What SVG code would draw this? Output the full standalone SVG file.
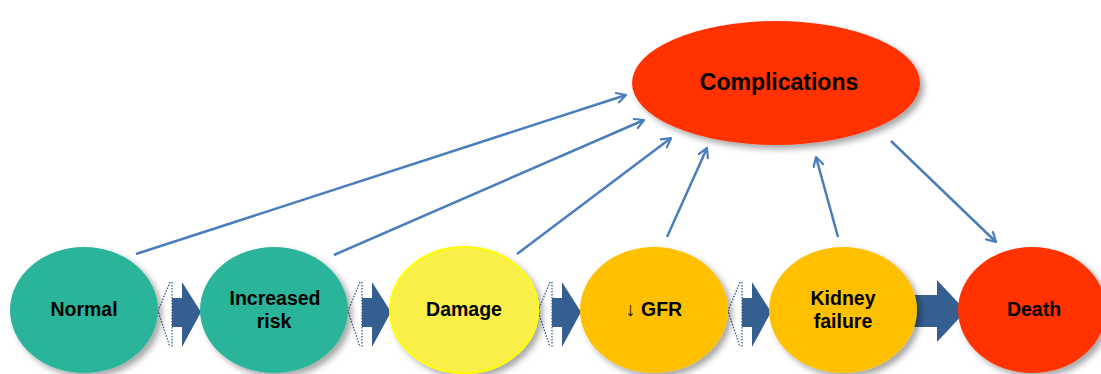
<svg xmlns="http://www.w3.org/2000/svg" width="1101" height="374" viewBox="0 0 1101 374">
<style>
.lbl{font-family:"Liberation Sans",Arial,sans-serif;font-weight:bold;font-size:19.5px;fill:#000;text-anchor:middle}
.big{font-size:23px}
.thin{stroke:#4a7ebb;stroke-width:2.5;fill:none;marker-end:url(#open)}
.blk{fill:#365f91}
.dot{fill:none;stroke:#365f91;stroke-width:1.3;stroke-dasharray:1.5 1.5}
</style>
<defs>
<marker id="open" viewBox="0 0 12 12" refX="10" refY="6" markerWidth="12" markerHeight="12" markerUnits="userSpaceOnUse" orient="auto">
<path d="M1,1 L10,6 L1,11" fill="none" stroke="#4a7ebb" stroke-width="2.2" stroke-linecap="round" stroke-linejoin="round"/>
</marker>
<filter id="sh" x="-20%" y="-20%" width="150%" height="150%">
<feGaussianBlur in="SourceAlpha" stdDeviation="3"/>
<feOffset dx="4" dy="4" result="b"/>
<feComponentTransfer><feFuncA type="linear" slope="0.35"/></feComponentTransfer>
<feMerge><feMergeNode/><feMergeNode in="SourceGraphic"/></feMerge>
</filter>
</defs>
<g id="connectors">
<line class="thin" x1="136" y1="254" x2="626" y2="95"/>
<line class="thin" x1="334" y1="255" x2="644" y2="120"/>
<line class="thin" x1="517" y1="254" x2="671" y2="138"/>
<line class="thin" x1="667" y1="237" x2="707" y2="148"/>
<line class="thin" x1="838" y1="237" x2="816" y2="157"/>
<line class="thin" x1="891" y1="141" x2="996" y2="242"/>
<g id="block1"><path class="dot" d="M170,282 L158,311 L170,347 M172,282 L172,347"/><path class="blk" d="M172,298 H182 V282 L201,312 L182,347 V327 H172 Z"/></g>
<g id="block2"><path class="dot" d="M360,282 L348,311 L360,347 M362,282 L362,347"/><path class="blk" d="M362,298 H372 V282 L391,312 L372,347 V327 H362 Z"/></g>
<g id="block3"><path class="dot" d="M550,282 L538,311 L550,347 M552,282 L552,347"/><path class="blk" d="M552,298 H562 V282 L581,312 L562,347 V327 H552 Z"/></g>
<g id="block4"><path class="dot" d="M740,282 L728,311 L740,347 M742,282 L742,347"/><path class="blk" d="M742,298 H752 V282 L771,312 L752,347 V327 H742 Z"/></g>
<g id="block5"><path class="blk" d="M910,295 H937 V280 L966,311 L937,342 V327 H910 Z"/></g>
</g>
<g id="normal"><ellipse cx="84" cy="310" rx="74" ry="63" fill="#2bb59b" filter="url(#sh)"/><text class="lbl" x="84" y="316">Normal</text></g>
<g id="increased"><ellipse cx="274" cy="310" rx="74" ry="63" fill="#2bb59b" filter="url(#sh)"/><text class="lbl" x="275" y="305">Increased</text><text class="lbl" x="274" y="328">risk</text></g>
<g id="damage"><ellipse cx="464" cy="310" rx="74" ry="63" fill="#f9ef4a" stroke="#ffff00" stroke-width="2" filter="url(#sh)"/><text class="lbl" x="464" y="316">Damage</text></g>
<g id="gfr"><ellipse cx="654" cy="310" rx="74" ry="63" fill="#ffc000" filter="url(#sh)"/><text class="lbl" x="654" y="316">↓ GFR</text></g>
<g id="kidney"><ellipse cx="843" cy="310" rx="74" ry="63" fill="#ffc000" filter="url(#sh)"/><text class="lbl" x="843" y="305">Kidney</text><text class="lbl" x="843" y="328">failure</text></g>
<g id="death"><ellipse cx="1032" cy="310" rx="74" ry="63" fill="#ff3300" filter="url(#sh)"/><text class="lbl" x="1034" y="316">Death</text></g>
<g id="complications"><ellipse cx="776" cy="83" rx="144" ry="62" fill="#ff3300" filter="url(#sh)"/><text class="lbl big" x="779" y="90">Complications</text></g>
</svg>
